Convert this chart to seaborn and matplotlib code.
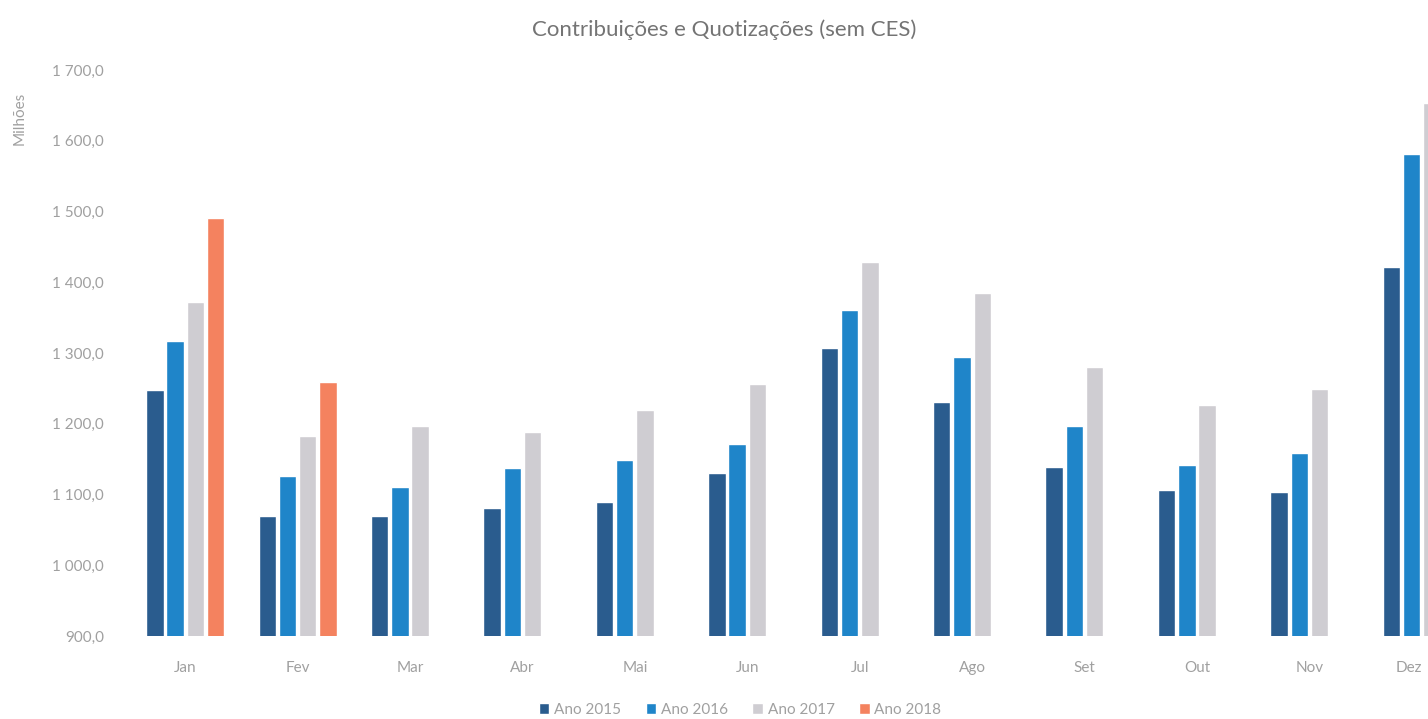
import matplotlib
matplotlib.use("Agg")
import matplotlib.pyplot as plt
import seaborn as sns
import pandas as pd
import numpy as np
from matplotlib.ticker import FuncFormatter

months = ["Jan", "Fev", "Mar", "Abr", "Mai", "Jun", "Jul", "Ago", "Set", "Out", "Nov", "Dez"]
years = ["Ano 2015", "Ano 2016", "Ano 2017", "Ano 2018"]
v2015 = [1248, 1070, 1070, 1081, 1089, 1130, 1307, 1231, 1139, 1106, 1104, 1422]
v2016 = [1317, 1126, 1111, 1137, 1149, 1171, 1361, 1294, 1197, 1142, 1159, 1581]
v2017 = [1372, 1183, 1197, 1188, 1219, 1256, 1428, 1385, 1280, 1226, 1249, 1653]
v2018 = [1491, 1259, np.nan, np.nan, np.nan, np.nan, np.nan, np.nan, np.nan, np.nan, np.nan, np.nan]
colors = ["#2a5c8e", "#1f85c9", "#cfcdd2", "#f4825f"]

rows = []
for yr, vals in zip(years, [v2015, v2016, v2017, v2018]):
    for m, v in zip(months, vals):
        rows.append({"Mês": m, "Ano": yr, "Valor": v})
df = pd.DataFrame(rows)

sns.set_theme(style="white")
plt.rcParams['font.family'] = ['Lato', 'DejaVu Sans']

W, H = 1428, 719
fig = plt.figure(figsize=(W / 100, H / 100), dpi=100)
left_px, right_px, top_px, bot_px = 129, 1478, 70, 636
ax = fig.add_axes([left_px / W, 1 - bot_px / H, (right_px - left_px) / W, (bot_px - top_px) / H])

sns.barplot(data=df, x="Mês", y="Valor", hue="Ano", order=months, hue_order=years,
            palette=colors, width=0.72, gap=0.14, ax=ax, saturation=1, legend=True)

ax.set_ylim(900, 1700)
ax.set_xlim(-0.5, 11.5)
ax.set_yticks(np.arange(900, 1701, 100))
ax.yaxis.set_major_formatter(FuncFormatter(
    lambda v, p: ("{:,.1f}".format(v)).replace(",", " ").replace(".", ",")))
for s in ax.spines.values():
    s.set_visible(False)
ax.tick_params(axis="y", length=0, pad=18, labelsize=11, labelcolor="#a0a0a0")
ax.tick_params(axis="x", length=0, pad=18, labelsize=11, labelcolor="#a0a0a0")
ax.set_xlabel("")
ax.set_ylabel("")
# last month label sits at the cropped right edge; anchor it on its right side
xt = ax.get_xticklabels()
xt[-1].set_horizontalalignment("right")

handles, labels = ax.get_legend_handles_labels()
ax.get_legend().remove()
fig.legend(handles, labels, loc="center", bbox_to_anchor=(740 / W, 1 - 710 / H), ncol=4,
           frameon=False, fontsize=11, labelcolor="#a0a0a0", handlelength=0.7, handleheight=0.7,
           handletextpad=0.3, columnspacing=1.6)

fig.text(724 / W, 1 - 30 / H, "Contribuições e Quotizações (sem CES)", ha="center", va="center",
         fontsize=16, color="#747474")
fig.text(20 / W, 1 - 118 / H, "Milhões", rotation=90, ha="center", va="center",
         fontsize=11, color="#a0a0a0")

fig.savefig("out.png", dpi=100)
